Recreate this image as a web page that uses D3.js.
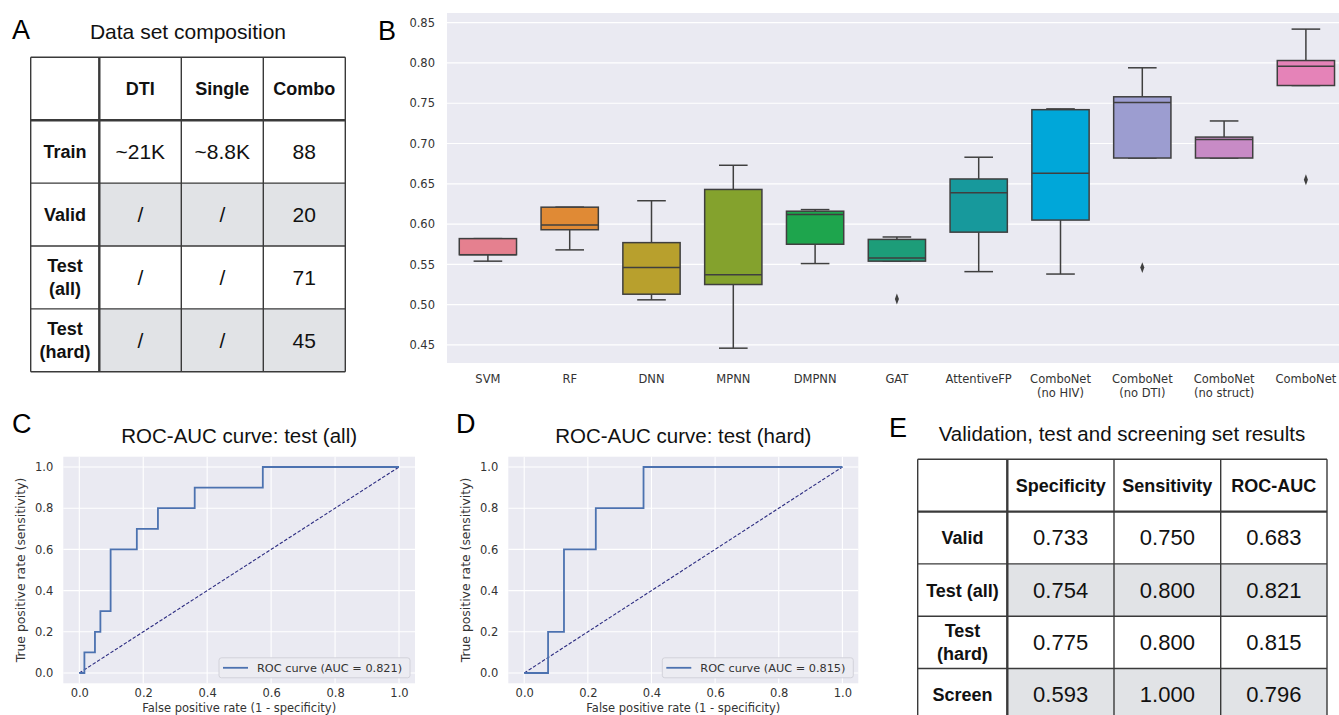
<!DOCTYPE html>
<html>
<head>
<meta charset="utf-8">
<script src="https://cdn.jsdelivr.net/npm/d3@7"></script>
<style>
  body { margin: 0; background: #fff; }
  svg { display: block; }
</style>
</head>
<body>
<svg id="fig" width="1339" height="715"></svg>
<script>
// ---- data ----
const compHeader = ["", "DTI", "Single", "Combo"];
const compRows = ["Train", "Valid", "Test\n(all)", "Test\n(hard)"];
const compValues = [
  ["~21K", "~8.8K", "88"],
  ["/", "/", "20"],
  ["/", "/", "71"],
  ["/", "/", "45"]
];

const models = ["SVM", "RF", "DNN", "MPNN", "DMPNN", "GAT", "AttentiveFP",
  "ComboNet\n(no HIV)", "ComboNet\n(no DTI)", "ComboNet\n(no struct)", "ComboNet"];
const whiskLow  = [0.554, 0.568, 0.506, 0.446, 0.551, 0.554, 0.541, 0.538, 0.682, 0.682, 0.772];
const q1        = [0.562, 0.593, 0.513, 0.525, 0.575, 0.554, 0.590, 0.605, 0.682, 0.682, 0.772];
const median    = [0.562, 0.599, 0.546, 0.537, 0.612, 0.558, 0.639, 0.663, 0.751, 0.705, 0.796];
const q3        = [0.582, 0.621, 0.577, 0.643, 0.616, 0.581, 0.656, 0.742, 0.758, 0.708, 0.803];
const whiskHigh = [0.582, 0.621, 0.629, 0.673, 0.618, 0.584, 0.683, 0.743, 0.794, 0.728, 0.842];
const outliers  = [[], [], [], [], [], [0.507], [], [], [0.546], [], [0.655]];
const boxColors = ["#e5808f", "#e08a35", "#b8a02d", "#84a22d", "#1ea54d", "#1d9d79",
  "#17999c", "#00a7d9", "#9c9dd0", "#c88bc6", "#e583b8"];
const boxTicks = [0.45, 0.50, 0.55, 0.60, 0.65, 0.70, 0.75, 0.80, 0.85];

const rocTicks = [0, 0.2, 0.4, 0.6, 0.8, 1.0];
const rocAllFpr = [0, 0.016, 0.016, 0.049, 0.049, 0.066, 0.066, 0.098, 0.098, 0.180, 0.180, 0.246, 0.246, 0.361, 0.361, 0.574, 0.574, 1.0];
const rocAllTpr = [0, 0, 0.1, 0.1, 0.2, 0.2, 0.3, 0.3, 0.6, 0.6, 0.7, 0.7, 0.8, 0.8, 0.9, 0.9, 1.0, 1.0];
const rocHardFpr = [0, 0.075, 0.075, 0.125, 0.125, 0.225, 0.225, 0.375, 0.375, 1.0];
const rocHardTpr = [0, 0, 0.2, 0.2, 0.6, 0.6, 0.8, 0.8, 1.0, 1.0];

const resHeader = ["", "Specificity", "Sensitivity", "ROC-AUC"];
const resRows = ["Valid", "Test (all)", "Test\n(hard)", "Screen"];
const resValues = [
  ["0.733", "0.750", "0.683"],
  ["0.754", "0.800", "0.821"],
  ["0.775", "0.800", "0.815"],
  ["0.593", "1.000", "0.796"]
];

// ---- setup ----
const svg = d3.select('#fig');
const helv = "'Liberation Sans', Arial, Helvetica, sans-serif";
const dejavu = "'DejaVu Sans', sans-serif";

const panelLetter = (x, y, t) => svg.append('text')
  .attr('x', x).attr('y', y)
  .attr('font-family', helv).attr('font-size', 27)
  .attr('fill', '#000').text(t);

const multiline = (sel, txt, lineH) => {
  const lines = txt.split('\n');
  lines.forEach((l, i) => {
    sel.append('tspan')
      .attr('x', sel.attr('x'))
      .attr('dy', i === 0 ? -(lines.length - 1) * lineH / 2 : lineH)
      .text(l);
  });
};

// ---- tables ----
function drawTable(opt) {
  const g = svg.append('g');
  const nRows = opt.rows.length + 1;
  const edges = [opt.x0, ...Array.from(d3.cumsum(opt.widths), d => opt.x0 + d)];
  const ry = d3.scaleBand().domain(d3.range(nRows)).range([opt.y0, opt.y0 + opt.rowH * nRows]);
  const xEnd = edges[edges.length - 1];

  // shaded cells
  opt.shaded.forEach(r => {
    g.append('rect')
      .attr('x', edges[1]).attr('y', ry(r + 1))
      .attr('width', xEnd - edges[1]).attr('height', ry.bandwidth())
      .attr('fill', '#e1e3e6');
  });

  // grid lines
  d3.range(nRows + 1).forEach(i => {
    const y = opt.y0 + i * opt.rowH;
    g.append('line')
      .attr('x1', edges[0]).attr('x2', xEnd).attr('y1', y).attr('y2', y)
      .attr('stroke', '#3a3a3a').attr('stroke-width', i === 1 ? 2.4 : 1.4);
  });
  edges.forEach((x, i) => {
    g.append('line')
      .attr('x1', x).attr('x2', x).attr('y1', opt.y0).attr('y2', opt.y0 + opt.rowH * nRows)
      .attr('stroke', '#3a3a3a').attr('stroke-width', i === 1 ? 2.4 : 1.4);
  });

  const cx = i => (edges[i] + edges[i + 1]) / 2;
  // header
  opt.header.forEach((h, i) => {
    if (!h) return;
    g.append('text')
      .attr('x', cx(i)).attr('y', ry(0) + ry.bandwidth() / 2 + 6.5)
      .attr('text-anchor', 'middle')
      .attr('font-family', helv).attr('font-weight', 'bold')
      .attr('font-size', opt.headSize).attr('fill', '#111').text(h);
  });
  // rows
  opt.rows.forEach((r, ri) => {
    const t = g.append('text')
      .attr('x', cx(0)).attr('y', ry(ri + 1) + ry.bandwidth() / 2 + 6.5)
      .attr('text-anchor', 'middle')
      .attr('font-family', helv).attr('font-weight', 'bold')
      .attr('font-size', opt.headSize).attr('fill', '#111');
    multiline(t, r, opt.lineH);
    opt.values[ri].forEach((v, ci) => {
      g.append('text')
        .attr('x', cx(ci + 1)).attr('y', ry(ri + 1) + ry.bandwidth() / 2 + 7.5)
        .attr('text-anchor', 'middle')
        .attr('font-family', helv).attr('font-size', opt.valSize)
        .attr('fill', '#111').text(v);
    });
  });
}

// Panel A
panelLetter(12, 39, 'A');
svg.append('text').attr('x', 188).attr('y', 39).attr('text-anchor', 'middle')
  .attr('font-family', helv).attr('font-size', 21).attr('fill', '#111')
  .text('Data set composition');
drawTable({
  x0: 30.7, widths: [68.6, 82, 82, 82], y0: 57.3, rowH: 62.9,
  header: compHeader, rows: compRows, values: compValues, shaded: [1, 3],
  headSize: 18, valSize: 21, lineH: 23
});

// Panel E
panelLetter(889, 437, 'E');
svg.append('text').attr('x', 1122).attr('y', 441).attr('text-anchor', 'middle')
  .attr('font-family', helv).attr('font-size', 20.5).attr('fill', '#111')
  .text('Validation, test and screening set results');
drawTable({
  x0: 917.7, widths: [89.6, 106.7, 106.7, 106.3], y0: 459.3, rowH: 52.3,
  header: resHeader, rows: resRows, values: resValues, shaded: [1, 3],
  headSize: 18, valSize: 22, lineH: 23
});

// ---- Panel B: box plot ----
panelLetter(378, 40, 'B');
{
  const left = 447, right = 1339, top = 13, bottom = 363;
  const bx = d3.scaleBand().domain(models).range([left, left + 81.8 * models.length]);
  const by = d3.scaleLinear().domain([0.4276, 0.862]).range([bottom, top]);
  const bw = bx.bandwidth();

  svg.append('clipPath').attr('id', 'clipB')
    .append('rect').attr('x', left).attr('y', top).attr('width', right - left).attr('height', bottom - top);

  const g = svg.append('g');
  g.append('rect').attr('x', left).attr('y', top)
    .attr('width', right - left).attr('height', bottom - top).attr('fill', '#eaeaf2');

  const plot = g.append('g').attr('clip-path', 'url(#clipB)');
  plot.selectAll('.grid').data(boxTicks).enter().append('line')
    .attr('x1', left).attr('x2', right)
    .attr('y1', d => by(d)).attr('y2', d => by(d))
    .attr('stroke', '#fff').attr('stroke-width', 1.2);

  const yAxis = g.append('g').attr('transform', `translate(${left},0)`)
    .call(d3.axisLeft(by).tickValues(boxTicks).tickFormat(d3.format('.2f')).tickSize(0).tickPadding(12));
  yAxis.select('.domain').remove();
  yAxis.selectAll('text').attr('font-family', dejavu).attr('font-size', 11.5).attr('fill', '#333');

  const xAxis = g.append('g').attr('transform', `translate(0,${bottom})`)
    .call(d3.axisBottom(bx).tickSize(0).tickPadding(0));
  xAxis.select('.domain').remove();
  xAxis.selectAll('text').each(function (d) {
    const t = d3.select(this).text('').attr('y', 20).attr('dy', null)
      .attr('font-family', dejavu).attr('font-size', 11.5).attr('fill', '#333');
    d.split('\n').forEach((l, i) => {
      t.append('tspan').attr('x', 0).attr('dy', i === 0 ? 0 : 13.5).text(l);
    });
  });

  const stroke = '#3f3f3f';
  models.forEach((m, i) => {
    const c = bx(m) + bw / 2;
    const bg = plot.append('g');
    // whiskers
    bg.append('line').attr('x1', c).attr('x2', c).attr('y1', by(q3[i])).attr('y2', by(whiskHigh[i]))
      .attr('stroke', stroke).attr('stroke-width', 1.5);
    bg.append('line').attr('x1', c).attr('x2', c).attr('y1', by(q1[i])).attr('y2', by(whiskLow[i]))
      .attr('stroke', stroke).attr('stroke-width', 1.5);
    [whiskHigh[i], whiskLow[i]].forEach(v => {
      bg.append('line').attr('x1', c - bw * 0.175).attr('x2', c + bw * 0.175)
        .attr('y1', by(v)).attr('y2', by(v))
        .attr('stroke', stroke).attr('stroke-width', 1.5);
    });
    // box
    bg.append('rect')
      .attr('x', c - bw * 0.35).attr('width', bw * 0.7)
      .attr('y', by(q3[i])).attr('height', by(q1[i]) - by(q3[i]))
      .attr('fill', boxColors[i]).attr('stroke', stroke).attr('stroke-width', 1.5);
    bg.append('line').attr('x1', c - bw * 0.35).attr('x2', c + bw * 0.35)
      .attr('y1', by(median[i])).attr('y2', by(median[i]))
      .attr('stroke', stroke).attr('stroke-width', 1.5);
    // outliers
    outliers[i].forEach(v => {
      bg.append('path')
        .attr('d', d3.symbol(d3.symbolDiamond, 34)())
        .attr('transform', `translate(${c},${by(v)}) scale(0.65,1)`)
        .attr('fill', stroke);
    });
  });
}

// ---- Panels C, D: ROC curves ----
function drawRoc(opt) {
  const top = 456.7, bottom = 683.3;
  const x = d3.scaleLinear().domain([-0.05, 1.05]).range([opt.left, opt.right]);
  const y = d3.scaleLinear().domain([-0.05, 1.05]).range([bottom, top]);
  const g = svg.append('g');

  panelLetter(opt.letterX, 433, opt.letter);
  g.append('text').attr('x', (opt.left + opt.right) / 2).attr('y', 443)
    .attr('text-anchor', 'middle').attr('font-family', helv).attr('font-size', 20.5)
    .attr('fill', '#111').text(opt.title);

  g.append('rect').attr('x', opt.left).attr('y', top)
    .attr('width', opt.right - opt.left).attr('height', bottom - top).attr('fill', '#eaeaf2');

  rocTicks.forEach(t => {
    g.append('line').attr('x1', x(t)).attr('x2', x(t)).attr('y1', top).attr('y2', bottom)
      .attr('stroke', '#fff').attr('stroke-width', 1.1);
    g.append('line').attr('x1', opt.left).attr('x2', opt.right).attr('y1', y(t)).attr('y2', y(t))
      .attr('stroke', '#fff').attr('stroke-width', 1.1);
  });

  const xa = g.append('g').attr('transform', `translate(0,${bottom})`)
    .call(d3.axisBottom(x).tickValues(rocTicks).tickFormat(d3.format('.1f')).tickSize(0).tickPadding(6));
  xa.select('.domain').remove();
  xa.selectAll('text').attr('font-family', dejavu).attr('font-size', 11.5).attr('fill', '#333');

  const ya = g.append('g').attr('transform', `translate(${opt.left},0)`)
    .call(d3.axisLeft(y).tickValues(rocTicks).tickFormat(d3.format('.1f')).tickSize(0).tickPadding(10));
  ya.select('.domain').remove();
  ya.selectAll('text').attr('font-family', dejavu).attr('font-size', 11.5).attr('fill', '#333');

  g.append('text').attr('transform', `translate(${opt.left - 38},${(top + bottom) / 2}) rotate(-90)`)
    .attr('text-anchor', 'middle').attr('font-family', dejavu).attr('font-size', 12.4)
    .attr('fill', '#333').text('True positive rate (sensitivity)');
  g.append('text').attr('x', (opt.left + opt.right) / 2).attr('y', 712)
    .attr('text-anchor', 'middle').attr('font-family', dejavu).attr('font-size', 11.5)
    .attr('fill', '#333').text('False positive rate (1 - specificity)');

  // diagonal
  g.append('line').attr('x1', x(0)).attr('y1', y(0)).attr('x2', x(1)).attr('y2', y(1))
    .attr('stroke', '#2b2b80').attr('stroke-width', 1.1).attr('stroke-dasharray', '3.5,1.8');

  const pts = opt.fpr.map((f, i) => [f, opt.tpr[i]]);
  g.append('path').datum(pts)
    .attr('d', d3.line().x(d => x(d[0])).y(d => y(d[1])))
    .attr('fill', 'none').attr('stroke', '#4c72b0').attr('stroke-width', 1.8);

  // legend
  const lw = 191, lh = 20;
  const lx = opt.right - 5 - lw, ly = bottom - 5.5 - lh;
  g.append('rect').attr('x', lx).attr('y', ly).attr('width', lw).attr('height', lh)
    .attr('rx', 2.5).attr('fill', '#ececf2').attr('stroke', '#d2d2da').attr('stroke-width', 1);
  g.append('line').attr('x1', lx + 4).attr('x2', lx + 29).attr('y1', ly + lh / 2).attr('y2', ly + lh / 2)
    .attr('stroke', '#4c72b0').attr('stroke-width', 1.8);
  g.append('text').attr('x', lx + 38).attr('y', ly + lh / 2 + 4)
    .attr('font-family', dejavu).attr('font-size', 11.3).attr('fill', '#333')
    .text(opt.legend);
}

drawRoc({
  left: 63.3, right: 415, letter: 'C', letterX: 12,
  title: 'ROC-AUC curve: test (all)', fpr: rocAllFpr, tpr: rocAllTpr,
  legend: 'ROC curve (AUC = 0.821)'
});
drawRoc({
  left: 508.3, right: 858.3, letter: 'D', letterX: 456,
  title: 'ROC-AUC curve: test (hard)', fpr: rocHardFpr, tpr: rocHardTpr,
  legend: 'ROC curve (AUC = 0.815)'
});
</script>
</body>
</html>
